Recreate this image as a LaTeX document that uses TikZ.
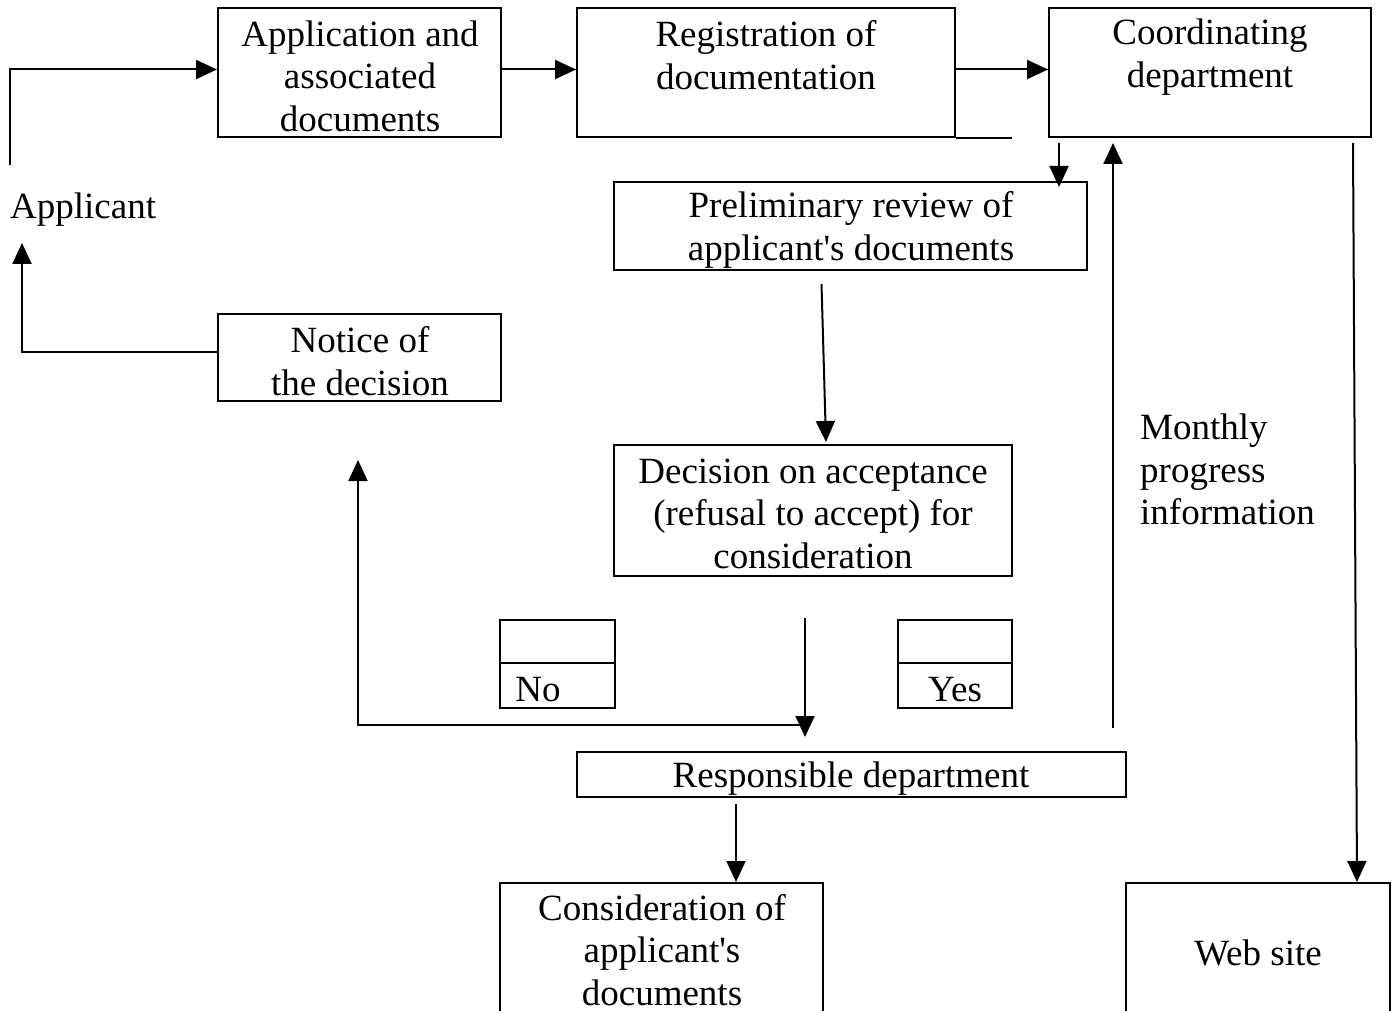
\documentclass[tikz,border=0pt]{standalone}
\usepackage{fontspec}
\setmainfont{Liberation Serif}
\usetikzlibrary{arrows.meta,calc}

\tikzset{
  box/.style={draw, line width=2pt, inner sep=0pt},
  txt/.style={inner sep=0pt, align=center, font=\fontsize{37}{42.5}\selectfont},
  lefttxt/.style={inner sep=0pt, align=left, font=\fontsize{37}{42.5}\selectfont},
  link/.style={line width=2pt},
  arr/.style={line width=2pt, -{Triangle[length=21pt,width=19pt]}},
}

\begin{document}
\begin{tikzpicture}[x=1pt,y=-1pt]
  \clip (0,0) rectangle (1398,1011);
  \fill[white] (0,0) rectangle (1398,1011);

  % ---- boxes ----
  \node[box, minimum width=283pt, minimum height=129pt] (app)    at (359.5,72.5) {};
  \node[box, minimum width=378pt, minimum height=129pt] (reg)    at (766,72.5)   {};
  \node[box, minimum width=322pt, minimum height=129pt] (coord)  at (1210,72.5)  {};
  \node[box, minimum width=473pt, minimum height=88pt]  (prelim) at (850.5,226)  {};
  \node[box, minimum width=283pt, minimum height=87pt]  (notice) at (359.5,357.5){};
  \node[box, minimum width=398pt, minimum height=131pt] (decide) at (813,510.5)  {};
  \node[box, minimum width=115pt, minimum height=88pt]  (nobox)  at (557.5,664)  {};
  \node[box, minimum width=114pt, minimum height=88pt]  (yesbox) at (955,664)    {};
  \node[box, minimum width=549pt, minimum height=45pt]  (resp)   at (851.5,774.5){};
  \node[box, minimum width=323pt, minimum height=170pt] (cons)   at (661.5,968)  {};
  \node[box, minimum width=264pt, minimum height=170pt] (web)    at (1258,968)   {};

  % dividers of the No / Yes boxes
  \draw[link] (nobox.west |- 0,663) -- (nobox.east |- 0,663);
  \draw[link] (yesbox.west |- 0,663) -- (yesbox.east |- 0,663);

  % ---- texts ----
  \node[txt] (appT)    at (360,76)    {Application and\\associated\\documents};
  \node[txt] (regT)    at (766,55)    {Registration of\\documentation};
  \node[txt] (coordT)  at (1210,57)   {Coordinating\\department};
  \node[txt] (prelimT) at (851,230)   {Preliminary review of\\applicant\textquotesingle s documents};
  \node[txt] (noticeT) at (360,361)   {Notice of\\the decision};
  \node[txt] (decideT) at (813,513.5) {Decision on acceptance\\(refusal to accept) for\\consideration};
  \node[txt] (respT)   at (851,779)   {Responsible department};
  \node[txt] (consT)   at (662,950)   {Consideration of\\applicant\textquotesingle s\\documents};
  \node[txt] (webT)    at (1258,953)  {Web site};
  \node[txt] (noT)     at (538,690)   {No};
  \node[txt] (yesT)    at (955,690)   {Yes};
  \node[lefttxt, anchor=west] (applicant) at (10,210)    {Applicant};
  \node[lefttxt, anchor=west] (monthly)   at (1140,469.5) {Monthly\\progress\\information};

  % ---- connectors ----
  \draw[arr] (10,165) |- ($(app.west)+(0,-3)$);
  \draw[arr] ($(app.east)+(0,-3)$) -- ($(reg.west)+(0,-3)$);
  \draw[arr] ($(reg.east)+(0,-3)$) -- ($(coord.west)+(0,-3)$);
  \draw[link] (reg.south east) -- ++(56,0);

  \draw[arr] ($(coord.south west)+(11,5)$) -- ($(coord.south west)+(11,49)$);
  \coordinate (upstart) at (1113,728);
  \draw[arr] (upstart) -- (upstart |- {$(coord.south)+(0,5)$});
  \draw[arr] ($(coord.south east)+(-19,5)$) -- ($(web.north east)+(-34,0)$);

  \draw[arr] ($(prelim.south)+(-29,13)$) -- ($(decide.north)+(13,-2)$);
  \draw[arr] ($(decide.south)+(-8,41)$) -- ($(resp.north)+(-46.5,-14)$);
  \coordinate (nojoin) at (805,725);
  \draw[arr] (nojoin) -| ($(notice.south)+(-1.5,58)$);
  \draw[arr] ($(notice.west)+(0,-6)$) -| (22,243);
  \draw[arr] ($(resp.south)+(-115.5,6)$) -- ($(cons.north)+(74.5,0)$);
\end{tikzpicture}
\end{document}
